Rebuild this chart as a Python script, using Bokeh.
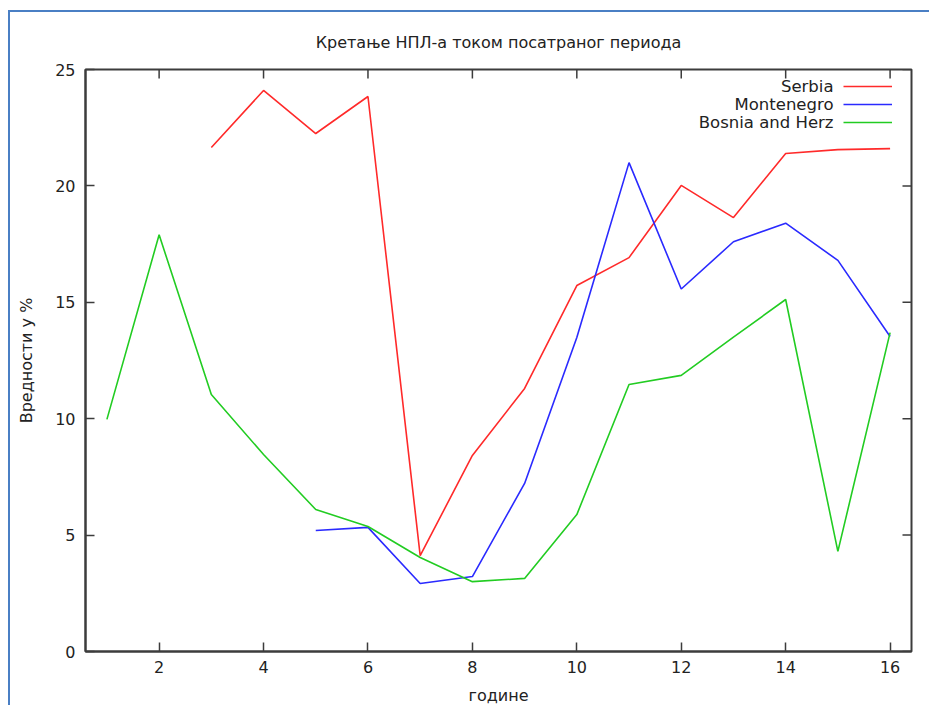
from bokeh.plotting import figure
from bokeh.models import Range1d, FixedTicker, Legend, LegendItem, Label
from bokeh.embed import file_html
from bokeh.resources import INLINE

# ---- data ----
years = list(range(1, 17))
serbia_x = [3, 4, 5, 6, 7, 8, 9, 10, 11, 12, 13, 14, 15, 16]
serbia = [21.65, 24.1, 22.25, 23.84, 4.12, 8.42, 11.3, 15.72, 16.92, 20.02, 18.64, 21.39, 21.56, 21.6]
montenegro_x = [5, 6, 7, 8, 9, 10, 11, 12, 13, 14, 15, 16]
montenegro = [5.2, 5.33, 2.92, 3.22, 7.22, 13.49, 21.0, 15.57, 17.6, 18.4, 16.8, 13.53]
bosnia_x = years
bosnia = [9.97, 17.9, 11.04, 8.46, 6.1, 5.37, 4.04, 3.0, 3.14, 5.88, 11.47, 11.86, 13.5, 15.12, 4.3, 13.7]
series_names = ["Serbia", "Montenegro", "Bosnia and Herz"]
x_ticks = [2, 4, 6, 8, 10, 12, 14, 16]
y_ticks = [0, 5, 10, 15, 20, 25]
x_lo, x_hi = 0.59, 16.41
y_lo, y_hi = 0, 25

FONT = "DejaVu Sans"
AX = "#3c3c3c"
TXT = "#222222"
colors = ["#ff2a2a", "#2a2aff", "#22cc22"]

W, H = 921, 695
BL, BR, BT, BB = 75, 20, 57, 55
frame_w = W - BL - BR
frame_h = H - BT - BB
TICK = 9

p = figure(width=W, height=H, output_backend="svg", toolbar_location=None,
           x_range=Range1d(x_lo, x_hi), y_range=Range1d(y_lo, y_hi),
           min_border_left=BL, min_border_right=BR, min_border_top=BT, min_border_bottom=BB,
           title="Кретање НПЛ-а током посатраног периода")
p.title.align = "center"
p.title.text_font = FONT
p.title.text_font_size = "16px"
p.title.text_font_style = "normal"
p.title.text_color = TXT
p.title.standoff = 36
p.grid.visible = False
p.outline_line_color = AX
p.outline_line_width = 2

for ax in (p.xaxis[0], p.yaxis[0]):
    ax.major_tick_in = TICK
    ax.major_tick_out = 0
    ax.minor_tick_in = 0
    ax.minor_tick_out = 0
    ax.axis_line_color = AX
    ax.axis_line_width = 2
    ax.major_tick_line_color = AX
    ax.major_tick_line_width = 1.5
    ax.major_label_text_font = FONT
    ax.major_label_text_font_size = "16px"
    ax.major_label_text_color = TXT
    ax.axis_label_text_font = FONT
    ax.axis_label_text_font_size = "16px"
    ax.axis_label_text_font_style = "normal"
    ax.axis_label_text_color = TXT

p.xaxis.ticker = FixedTicker(ticks=x_ticks)
p.yaxis.ticker = FixedTicker(ticks=y_ticks)
p.xaxis.major_label_standoff = 9
p.yaxis.major_label_standoff = 10
p.xaxis.axis_label = "године"
p.yaxis.axis_label = "Вредности у %"
p.xaxis.axis_label_standoff = 10
p.yaxis.axis_label_standoff = 16

# mirrored inward ticks on top and right border (gnuplot style)
dy = TICK * (y_hi - y_lo) / frame_h
dx = TICK * (x_hi - x_lo) / frame_w
p.segment(x0=x_ticks, y0=[y_hi] * len(x_ticks), x1=x_ticks, y1=[y_hi - dy] * len(x_ticks),
          line_color=AX, line_width=1.5)
p.segment(x0=[x_hi] * len(y_ticks), y0=y_ticks, x1=[x_hi - dx] * len(y_ticks), y1=y_ticks,
          line_color=AX, line_width=1.5)

r1 = p.line(serbia_x, serbia, line_color=colors[0], line_width=1.6)
r2 = p.line(montenegro_x, montenegro, line_color=colors[1], line_width=1.6)
r3 = p.line(bosnia_x, bosnia, line_color=colors[2], line_width=1.6)

legend = Legend(items=[LegendItem(label=" ", renderers=[r]) for r in (r1, r2, r3)],
                location=(758, frame_h - 63), glyph_width=49, glyph_height=18, label_height=18,
                label_width=0, label_standoff=0, spacing=0, padding=0, margin=0,
                border_line_alpha=0, background_fill_alpha=0, label_text_font_size="10px")
p.add_layout(legend, "center")

for i, name in enumerate(series_names):
    p.add_layout(Label(x=748, y=frame_h - 18 - 18 * i, x_units="screen", y_units="screen",
                       text=name, text_align="right", text_baseline="middle", text_font=FONT,
                       text_font_size="16.5px", text_color=TXT))

p.styles = {"margin-left": "8px", "margin-top": "10px",
            "border-left": "2px solid #4a7fc4", "border-top": "2px solid #4a7fc4"}

open("out.html", "w").write(file_html(p, INLINE))
